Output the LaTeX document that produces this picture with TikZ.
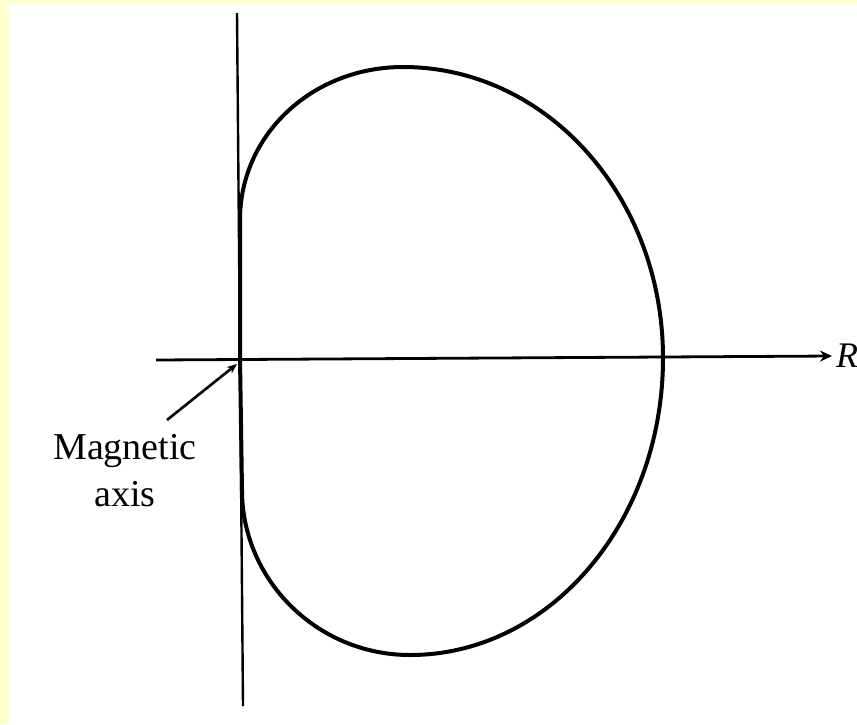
\documentclass[tikz,border=0pt]{standalone}
\usepackage{fontspec}
\setmainfont{Liberation Serif}
\usetikzlibrary{arrows.meta}
\definecolor{framey}{RGB}{255,255,204}
\tikzset{
  axisline/.style={line width=2.4pt, black},
  contour/.style={line width=4pt, black, line join=round},
  pointer/.style={line width=2.6pt, -{Stealth[length=10pt,width=8pt]}},
  lbl/.style={font=\fontsize{38}{47}\selectfont, align=center, inner sep=0pt}
}
\begin{document}
\begin{tikzpicture}[x={(1pt,0)}, y={(0,-1pt)}]
\useasboundingbox (0,0) rectangle (857,724);
\fill[framey] (0,0) rectangle (857,724);
\fill[white] (9,4) rectangle (857,724);
% axes
\coordinate (vtop) at (237,13);
\coordinate (vbot) at (243,706);
\coordinate (hstart) at (156,360);
\coordinate (hend) at (832,356);
\draw[axisline] (vtop) -- (vbot);
\draw[axisline, line width=2.8pt, -{Stealth[length=12pt,width=11pt]}] (hstart) -- (hend);
\node[anchor=west, inner sep=0pt, font=\fontsize{36}{40}\selectfont\itshape] (R) at (836,356) {R};
% flux surface contour
\draw[contour] (240,358) -- (240,220)
  .. controls (240,134) and (313,67) .. (403,67)
  .. controls (547,67) and (663,197) .. (663,358)
  .. controls (663,522) and (550,655) .. (410,655)
  .. controls (317,655) and (242,580) .. (242,490) -- cycle;
% label
\coordinate (axispt) at (237,364);
\node[lbl, anchor=north] (mag) at (125,434) {Magnetic\\axis};
\coordinate (ptrstart) at (167,420);
\draw[pointer] (ptrstart) -- (axispt);
\end{tikzpicture}
\end{document}
